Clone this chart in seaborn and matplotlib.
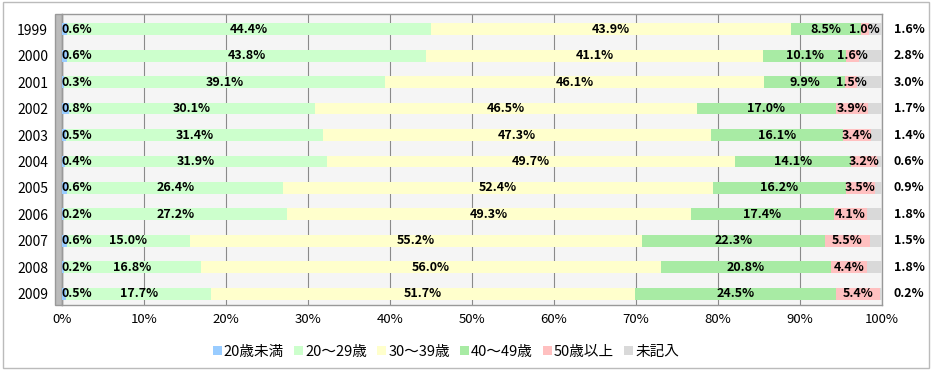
import numpy as np
import pandas as pd
import matplotlib
matplotlib.use("Agg")
import matplotlib.pyplot as plt
from matplotlib.patches import Rectangle, Patch
import seaborn as sns

years = ["1999", "2000", "2001", "2002", "2003", "2004", "2005", "2006", "2007", "2008", "2009"]
series_names = ["20歳未満", "20～29歳", "30～39歳", "40～49歳", "50歳以上", "未記入"]
under20 = [0.6, 0.6, 0.3, 0.8, 0.5, 0.4, 0.6, 0.2, 0.6, 0.2, 0.5]
age20s = [44.4, 43.8, 39.1, 30.1, 31.4, 31.9, 26.4, 27.2, 15.0, 16.8, 17.7]
age30s = [43.9, 41.1, 46.1, 46.5, 47.3, 49.7, 52.4, 49.3, 55.2, 56.0, 51.7]
age40s = [8.5, 10.1, 9.9, 17.0, 16.1, 14.1, 16.2, 17.4, 22.3, 20.8, 24.5]
over50 = [1.0, 1.6, 1.5, 3.9, 3.4, 3.2, 3.5, 4.1, 5.5, 4.4, 5.4]
unknown = [1.6, 2.8, 3.0, 1.7, 1.4, 0.6, 0.9, 1.8, 1.5, 1.8, 0.2]
colors = ["#99CCFF", "#CCFFCC", "#FFFFCC", "#A8EBA4", "#FFC0C0", "#D9D9D9"]

sns.set_theme(style="white")
plt.rcParams["font.family"] = ["Noto Sans CJK JP", "DejaVu Sans"]
plt.rcParams["text.color"] = "black"
plt.rcParams["xtick.color"] = "black"
plt.rcParams["ytick.color"] = "black"

vals = np.array([under20, age20s, age30s, age40s, over50, unknown], dtype=float)
pct = vals / vals.sum(axis=0) * 100
cum = np.cumsum(pct, axis=0)

fig = plt.figure(figsize=(9.32, 3.70), dpi=100)
ax = fig.add_axes([62/932, 1-305/370, 820/932, 291/370])
ax.set_facecolor("#F5F5F5")

for i in range(len(series_names) - 1, -1, -1):
    df = pd.DataFrame({"year": years, "v": cum[i]})
    sns.barplot(data=df, x="v", y="year", orient="h", color=colors[i],
                width=0.45, ax=ax, saturation=1, linewidth=0, zorder=3)

ax.set_xlim(0, 100)
ax.set_ylim(10.42, -0.57)
ax.set_xticks(np.arange(0, 101, 10))
ax.set_xticklabels([f"{t}%" for t in range(0, 101, 10)], fontsize=9.5)
ax.grid(axis="x", color="#8A8A8A", linewidth=0.8, zorder=0)
ax.set_axisbelow(True)
ax.set_xlabel("")
ax.set_ylabel("")
ax.tick_params(axis="y", labelsize=10, pad=10, length=0)
ax.tick_params(axis="x", pad=6, length=0)
for s in ax.spines.values():
    s.set_color("#999999")
    s.set_linewidth(1)

# left 3D wall
ax.add_patch(Rectangle((-0.009, 0), 0.009, 1.0, transform=ax.transAxes,
                       facecolor="#BBBBBB", edgecolor="#999999", clip_on=False, zorder=1))

# labels
for j in range(len(years)):
    for i in range(len(series_names)):
        txt = f"{vals[i, j]:.1f}%"
        start = cum[i, j] - pct[i, j]
        if i == 0:
            ax.text(start, j, txt, ha="left", va="center", fontsize=9,
                    fontweight="bold", zorder=5)
        elif i == 5:
            ax.text(103.3, j, txt, ha="center", va="center", fontsize=9,
                    fontweight="bold", zorder=5, clip_on=False)
        else:
            ax.text(start + pct[i, j] / 2, j, txt, ha="center", va="center",
                    fontsize=9, fontweight="bold", zorder=5)

handles = [Patch(facecolor=c, edgecolor="none") for c in colors]
fig.legend(handles, series_names, loc="center", bbox_to_anchor=(446/932, 1-352/370),
           ncol=6, frameon=False, fontsize=10.5, handlelength=0.6, handleheight=0.6,
           handletextpad=0.15, columnspacing=0.7)

fig.patches.append(Rectangle((0.003, 0.005), 0.994, 0.99, transform=fig.transFigure,
                             fill=False, edgecolor="#BBBBBB", linewidth=1))

fig.savefig("out.png", dpi=100)
